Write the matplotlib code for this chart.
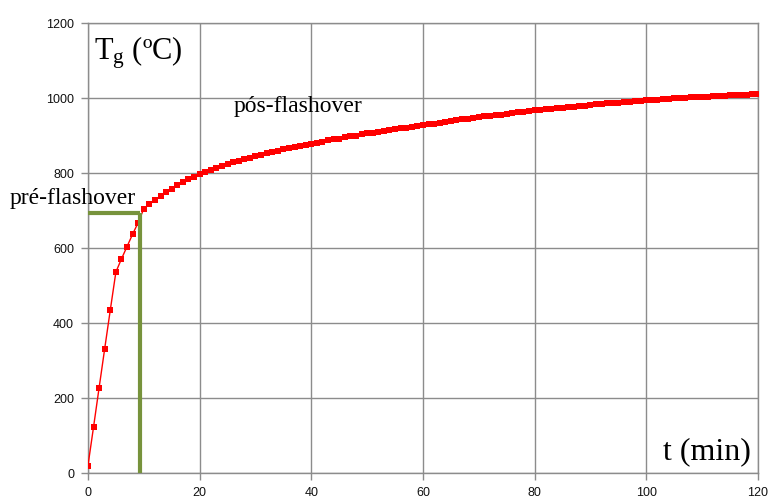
import numpy as np
import matplotlib.pyplot as plt

# tempo (min) e temperatura dos gases (ºC)
t_min = list(range(0, 121))
temp_pre = [20, 123, 228, 332, 435, 536, 571, 604, 637, 668]
temp_pos = [705, 717, 728, 739, 749, 758, 767, 775, 783, 790,
            797, 803, 809, 814, 819, 824, 829, 833, 837, 841,
            845, 849, 853, 856, 860, 863, 866, 869, 872, 875,
            878, 881, 884, 887, 890, 892, 895, 898, 900, 903,
            906, 908, 910, 913, 915, 917, 919, 921, 924, 926,
            928, 930, 932, 934, 936, 938, 941, 943, 945, 947,
            949, 951, 953, 955, 956, 958, 960, 962, 963, 965,
            967, 968, 970, 971, 973, 974, 976, 977, 979, 980,
            982, 983, 984, 986, 987, 988, 989, 990, 991, 993,
            994, 995, 996, 997, 998, 999, 1000, 1001, 1002, 1003,
            1003, 1004, 1005, 1006, 1006, 1007, 1008, 1009, 1009, 1010,
            1011]
temp = temp_pre + temp_pos

# instante e temperatura do flashover
t_flash = 9.35
T_flash = 693

x_ticks = [0, 20, 40, 60, 80, 100, 120]
y_ticks = [0, 200, 400, 600, 800, 1000, 1200]

plt.rcParams['mathtext.default'] = 'regular'

fig = plt.figure(figsize=(7.69, 4.98), dpi=100)
ax = fig.add_axes([0.1144, 0.0502, 0.8713, 0.9036])

ax.plot(t_min, temp, color='#ff0000', lw=1.0, marker='s', markersize=5,
        markeredgewidth=0, zorder=3)

green = '#77933c'
ax.plot([0, t_flash], [T_flash, T_flash], color=green, lw=3, solid_capstyle='butt', zorder=4)
ax.plot([t_flash, t_flash], [0, T_flash], color=green, lw=3, solid_capstyle='butt', zorder=4)

ax.set_xlim(0, 120)
ax.set_ylim(0, 1200)
ax.set_xticks(x_ticks)
ax.set_yticks(y_ticks)
ax.grid(True, color='#8c8c8c', lw=1.0)
ax.set_axisbelow(True)
for sp in ax.spines.values():
    sp.set_color('#8c8c8c')
    sp.set_linewidth(1.0)
ax.tick_params(colors='#8c8c8c', length=5, width=1.0, labelcolor='#111111',
               labelsize=9, pad=5)
for lab in ax.get_xticklabels() + ax.get_yticklabels():
    lab.set_family('Liberation Sans')

serif = 'Liberation Serif'
ax.text(1.0, 1170, 'T$_{g}$ (ºC)', fontsize=22, family=serif, va='top', ha='left')
ax.text(118.8, 18, 't (min)', fontsize=23, family=serif, va='bottom', ha='right')
ax.text(26, 1000 - 50, 'pós-flashover', fontsize=17, family=serif, va='bottom', ha='left')
ax.text(-14, 703, 'pré-flashover', fontsize=17, family=serif, va='bottom', ha='left')

fig.savefig('out.png', dpi=100)
